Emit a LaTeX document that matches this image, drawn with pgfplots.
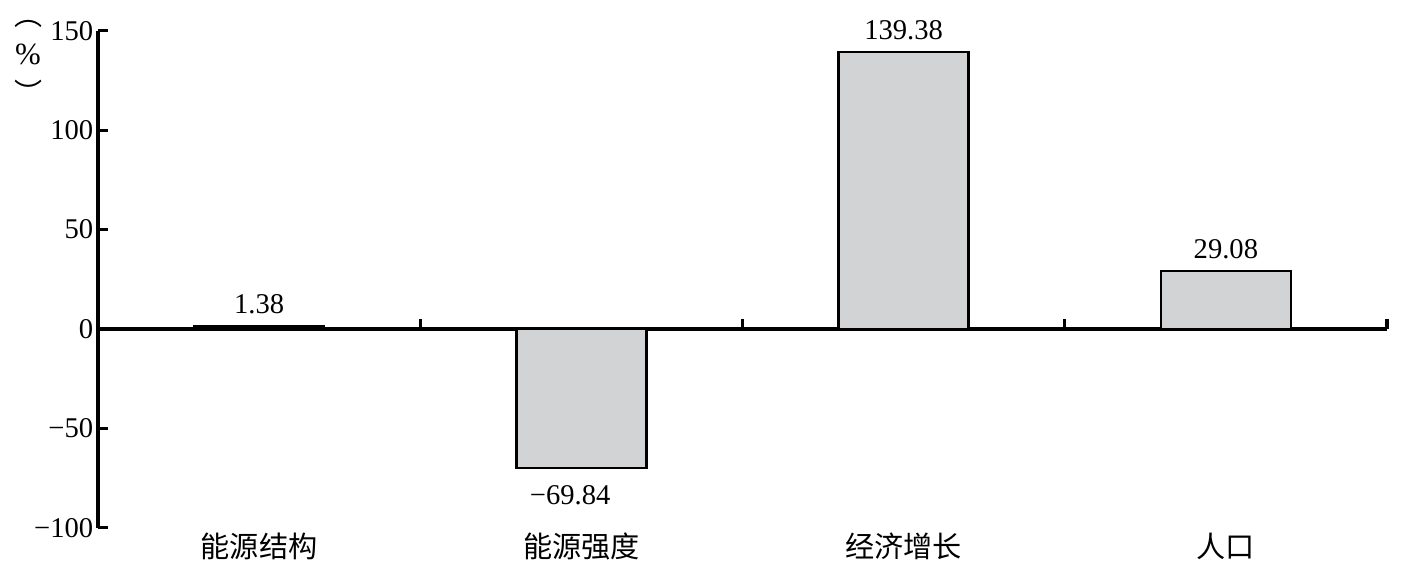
\documentclass[border=0pt]{standalone}
\usepackage{pgfplots}
\pgfplotsset{compat=1.18}
\usepackage{fontspec}
\setmainfont{Liberation Serif}
\newfontfamily\cjk{Noto Sans CJK SC}
\definecolor{barfill}{RGB}{209,211,213}

% positive and negative contributions, kept apart so that the labels
% of negative bars can hang below them
\pgfplotstableread{
x    y      lab
0.5  1.38   1.38
2.5  139.38 139.38
3.5  29.08  29.08
}\posfactors
\pgfplotstableread{
x    y      lab
1.5  -69.84 −69.84
}\negfactors

\begin{document}
\begin{tikzpicture}
\fontsize{10.2}{12}\selectfont
\begin{axis}[
  scale only axis,
  x=114.92pt, y=0.709pt,
  xmin=0, xmax=4, ymin=-100, ymax=150,
  axis y line=left, axis x line=middle,
  axis line style={-, line width=1.1pt},
  tick align=inside,
  major tick length=3.6pt, minor tick length=3.6pt,
  tick style={line width=1.1pt, black},
  ytick={-100,-50,0,50,100,150},
  yticklabels={−100,−50,0,50,100,150},
  yticklabel style={inner sep=1.5pt},
  xtick={0.5,1.5,2.5,3.5},
  xticklabels={能源结构,能源强度,经济增长,人口},
  xticklabel style={font=\cjk\fontsize{10.4}{12}\selectfont, anchor=center, yshift=-74pt},
  major x tick style={draw=none},
  minor xtick={1,2,3,4},
  minor x tick style={yshift=3.6pt},
  ybar, bar width=0.403, bar shift=0pt,
  clip=false,
  point meta=explicit symbolic,
  nodes near coords={\pgfplotspointmeta},
  every node near coord/.append style={font=\fontsize{10.2}{12}\selectfont, inner sep=2.5pt},
]
\addplot[fill=barfill, draw=black, line width=0.9pt,
  every node near coord/.append style={yshift=1.4pt}]
  table[x=x, y=y, meta=lab] {\posfactors};
\addplot[fill=barfill, draw=black, line width=0.9pt,
  every node near coord/.append style={anchor=north, yshift=-3.5pt, xshift=-4pt}]
  table[x=x, y=y, meta=lab] {\negfactors};
\node[align=center, inner sep=0pt, font=\cjk\fontsize{10}{13.8}\selectfont]
  at (axis cs:-0.217,134.3) {︵\\{\rmfamily\fontsize{11}{13.8}\selectfont\%}\\︶};
\coordinate (bl) at (axis cs:-0.3041,-123.2);
\coordinate (tr) at (axis cs:4.0465,165.5);
\end{axis}
\path (bl) rectangle (tr);
\end{tikzpicture}
\end{document}
